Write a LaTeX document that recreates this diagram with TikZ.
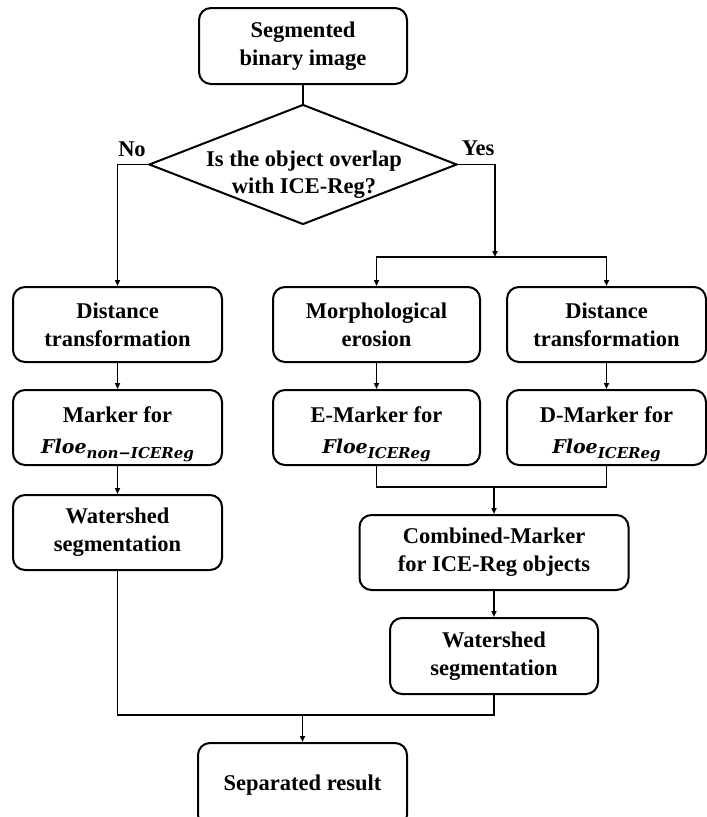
\documentclass[tikz,border=0pt]{standalone}
\usepackage{fontspec}
\setmainfont{Liberation Serif}
\newfontfamily\mfont{DejaVu Serif}
\usetikzlibrary{shapes.geometric,arrows.meta}
\newcommand{\floe}[1]{{\fontsize{19}{19}\selectfont\mfont\bfseries\itshape Floe}\raisebox{-5pt}{\fontsize{15}{15}\selectfont\mfont\bfseries\itshape #1}}
\newcommand{\lowstrut}{\rule{0pt}{29pt}}
\begin{document}
\begin{tikzpicture}[x=1pt,y=-1pt,
  box/.style={draw, line width=2pt, rounded corners=12pt, align=center,
    font=\fontsize{22.5}{28}\selectfont\bfseries, inner sep=0pt},
  conn/.style={line width=1.6pt},
  arr/.style={conn, -{Triangle[length=6pt,width=5pt]}},
  lbl/.style={font=\fontsize{22.5}{28}\selectfont\bfseries, inner sep=0pt}]
\clip (0,0) rectangle (707,817);
\useasboundingbox (0,0) rectangle (707,817);

\node[box, minimum width=208pt, minimum height=76pt] (top) at (303,46) {Segmented\\binary image};
\node[draw, diamond, line width=2pt, minimum width=308pt, minimum height=120pt, inner sep=0pt] (dec) at (303,164.5) {};
\node[lbl, align=center, font=\fontsize{22.5}{27}\selectfont\bfseries] (dtext) at (304,175) {Is the object overlap\\with ICE-Reg?};
\node[lbl] (no) at (132,149) {No};
\node[lbl] (yes) at (478,148) {Yes};

\node[box, minimum width=209pt, minimum height=75pt] (L1) at (117.5,324.5) {Distance\\transformation};
\node[box, minimum width=207pt, minimum height=75pt] (M1) at (376.5,324.5) {Morphological\\erosion};
\node[box, minimum width=199pt, minimum height=75pt] (R1) at (606.5,324.5) {Distance\\transformation};

\node[box, minimum width=209pt, minimum height=75pt] (L2) at (117.5,427.5) {\lowstrut Marker for\\[3pt]\floe{non−ICEReg}};
\node[box, minimum width=207pt, minimum height=75pt] (M2) at (376.5,427.5) {\lowstrut E-Marker for\\[3pt]\floe{ICEReg}};
\node[box, minimum width=199pt, minimum height=75pt] (R2) at (606.5,427.5) {\lowstrut D-Marker for\\[3pt]\floe{ICEReg}};

\node[box, minimum width=209pt, minimum height=75pt] (L3) at (117.5,532.5) {Watershed\\segmentation};
\node[box, minimum width=269pt, minimum height=75pt] (C) at (494,552.5) {Combined-Marker\\for ICE-Reg objects};
\node[box, minimum width=208pt, minimum height=76pt] (W2) at (494,656) {Watershed\\segmentation};
\node[box, minimum width=209pt, minimum height=84pt] (S) at (302.5,785) {Separated result};

\coordinate (fork) at (495,257);
\coordinate (join) at (494,487);
\coordinate (bot) at (302.5,715);

\draw[conn] (top.south) -- (dec.north);
\draw[arr] (dec.west) -| (L1.north);
\draw[arr] (dec.east) -| (fork);
\draw[arr] (fork) -| (M1.north);
\draw[arr] (fork) -| (R1.north);
\draw[arr] (L1) -- (L2);
\draw[arr] (L2) -- (L3);
\draw[arr] (M1) -- (M2);
\draw[arr] (R1) -- (R2);
\draw[conn] (M2.south) |- (join) -| (R2.south);
\draw[arr] (join) -- (C.north);
\draw[arr] (C) -- (W2);
\draw[conn] (L3.south) |- (bot) -| (W2.south);
\draw[arr] (bot) -- (S.north);
\end{tikzpicture}
\end{document}
